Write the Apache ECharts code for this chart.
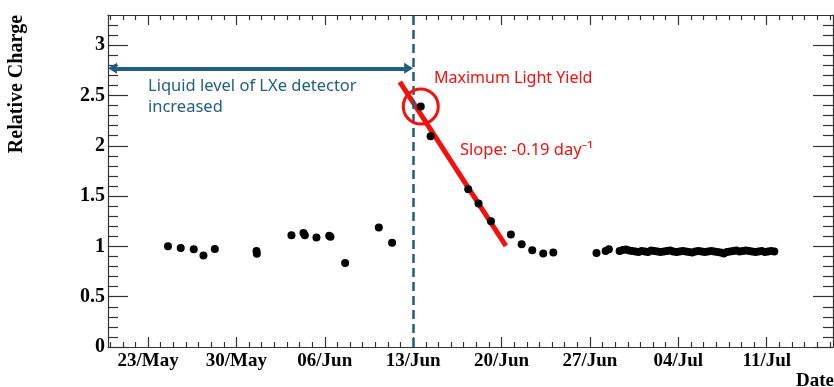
<!DOCTYPE html>
<html>
<head>
<meta charset="utf-8">
<script src="https://cdn.jsdelivr.net/npm/echarts@6/dist/echarts.min.js"></script>
<style>
  html, body { margin: 0; padding: 0; background: #fff; }
  #chart { width: 834px; height: 387px; }
</style>
</head>
<body>
<div id="chart"></div>
<script>
// days counted from 23/May
const xMin = -3.17
const xMax = 54.25
const xTickDays = [0, 7, 14, 21, 28, 35, 42, 49]
const xTickLabels = ['23/May', '30/May', '06/Jun', '13/Jun', '20/Jun', '27/Jun', '04/Jul', '11/Jul']
const xMinorDays = [-3, -2, -1, 1, 2, 3, 4, 5, 6, 8, 9, 10, 11, 12, 13, 15, 16, 17, 18, 19, 20,
  22, 23, 24, 25, 26, 27, 29, 30, 31, 32, 33, 34, 36, 37, 38, 39, 40, 41, 43, 44, 45, 46, 47, 48,
  50, 51, 52, 53, 54]
const yTickValues = [0, 0.5, 1, 1.5, 2, 2.5, 3]
const yMinorValues = [0.1, 0.2, 0.3, 0.4, 0.6, 0.7, 0.8, 0.9, 1.1, 1.2, 1.3, 1.4, 1.6, 1.7, 1.8, 1.9,
  2.1, 2.2, 2.3, 2.4, 2.6, 2.7, 2.8, 2.9, 3.1, 3.2]

// before liquid level change
const beforeDays = [1.58, 2.59, 3.62, 4.39, 5.29, 8.59, 8.62, 11.36, 12.31, 12.42, 13.34, 14.35, 14.45, 15.61, 18.28, 19.33]
const beforeValues = [1.002, 0.985, 0.972, 0.91, 0.975, 0.955, 0.928, 1.111, 1.134, 1.111, 1.088, 1.105, 1.095, 0.836, 1.188, 1.035]
// after 13/Jun
const afterDays = [21.6, 22.38, 25.36, 26.18, 27.16, 28.74, 29.59, 30.43, 31.3, 32.1, 35.52, 36.24, 36.5]
const afterValues = [2.39, 2.095, 1.568, 1.426, 1.25, 1.118, 1.022, 0.962, 0.929, 0.939, 0.935, 0.955, 0.972]
// stable period
const stableDays = [37.35, 37.6, 37.85, 38.1, 38.35, 38.6, 38.85, 39.1, 39.35, 39.6,
  39.85, 40.1, 40.35, 40.6, 40.85, 41.1, 41.35, 41.6, 41.85, 42.1,
  42.35, 42.6, 42.85, 43.1, 43.35, 43.6, 43.85, 44.1, 44.35, 44.6,
  44.85, 45.1, 45.35, 45.6, 45.85, 46.1, 46.35, 46.6, 46.85, 47.1,
  47.35, 47.6, 47.85, 48.1, 48.35, 48.6, 48.85, 49.1, 49.35, 49.6]
const stableValues = [0.955, 0.965, 0.97, 0.96, 0.955, 0.95, 0.945, 0.955, 0.95, 0.945,
  0.96, 0.955, 0.95, 0.945, 0.95, 0.955, 0.96, 0.95, 0.945, 0.95,
  0.955, 0.95, 0.945, 0.94, 0.95, 0.955, 0.95, 0.945, 0.95, 0.955,
  0.95, 0.945, 0.94, 0.93, 0.945, 0.95, 0.955, 0.96, 0.95, 0.955,
  0.96, 0.955, 0.95, 0.945, 0.95, 0.955, 0.945, 0.95, 0.955, 0.95]
// linear fit
const fitDays = [19.94, 28.34]
const fitValues = [2.635, 1.005]

const levelChangeDay = 21
const arrowLevel = 2.77
const arrowEnds = [xMin + 0.36, levelChangeDay - 0.36] // arrow tips sit on the axis / dashed line
const maxPoint = [21.6, 2.39]

const pairs = (xs, ys) => xs.map((x, i) => [x, ys[i]])
const serif = 'Liberation Serif'
const blue = '#1f5e7c'
const red = '#f50f0f'
const axisCol = '#333'

function xAxisOf(pos, ticks, len, main) {
  return {
    type: 'value', position: pos, min: xMin, max: xMax,
    axisLine: { show: main, onZero: false, lineStyle: { color: axisCol, width: 1.2 } },
    axisTick: { show: true, inside: true, length: len, customValues: ticks, lineStyle: { color: axisCol, width: 1.2 } },
    axisLabel: main && pos === 'bottom' ? {
      show: true, customValues: ticks, margin: 5,
      fontFamily: serif, fontWeight: 'bold', fontSize: 19, color: '#000',
      formatter: v => xTickLabels[xTickDays.indexOf(v)]
    } : { show: false },
    splitLine: { show: false }
  }
}
function yAxisOf(pos, ticks, len, main) {
  return {
    type: 'value', position: pos, min: 0, max: 3.3,
    axisLine: { show: main, onZero: false, lineStyle: { color: axisCol, width: 1.2 } },
    axisTick: { show: true, inside: true, length: len, customValues: ticks, lineStyle: { color: axisCol, width: 1.2 } },
    axisLabel: main && pos === 'left' ? {
      show: true, customValues: ticks, margin: 3,
      fontFamily: serif, fontWeight: 'bold', fontSize: 20, color: '#000'
    } : { show: false },
    splitLine: { show: false }
  }
}

const chart = echarts.init(document.getElementById('chart'))
const dot = { color: '#000', opacity: 1 }
chart.setOption({
  animation: false,
  grid: { left: 108, right: 1, top: 15, bottom: 40 },
  xAxis: [
    xAxisOf('bottom', xTickDays, 10, true),
    xAxisOf('bottom', xMinorDays, 5, false),
    xAxisOf('top', xTickDays, 10, true),
    xAxisOf('top', xMinorDays, 5, false)
  ],
  yAxis: [
    yAxisOf('left', yTickValues, 20, true),
    yAxisOf('left', yMinorValues, 10, false),
    yAxisOf('right', yTickValues, 20, true),
    yAxisOf('right', yMinorValues, 10, false)
  ],
  series: [
    {
      type: 'line', data: pairs(fitDays, fitValues), showSymbol: false, z: 2,
      lineStyle: { color: red, width: 5 },
      markLine: {
        silent: true, animation: false,
        label: { show: false },
        data: [
          [{ coord: [arrowEnds[0], arrowLevel], symbol: 'triangle', symbolSize: [11, 9], symbolRotate: 90 },
           { coord: [arrowEnds[1], arrowLevel], symbol: 'triangle', symbolSize: [11, 9], symbolRotate: -90 }]
        ],
        lineStyle: { color: blue, width: 4, type: 'solid' }
      }
    },
    {
      type: 'scatter', data: pairs(beforeDays, beforeValues), symbolSize: 8, itemStyle: dot, z: 3,
      markLine: {
        silent: true, symbol: 'none', animation: false,
        label: { show: false },
        lineStyle: { color: blue, width: 2.5, type: [9, 5] },
        data: [{ xAxis: levelChangeDay }]
      }
    },
    {
      type: 'scatter', data: pairs(afterDays, afterValues), symbolSize: 8, itemStyle: dot, z: 3,
      markPoint: {
        silent: true, animation: false,
        symbol: 'circle', symbolSize: 35,
        label: { show: false },
        itemStyle: { color: 'rgba(0,0,0,0)', borderColor: red, borderWidth: 3 },
        data: [{ coord: maxPoint }]
      }
    },
    { type: 'scatter', data: pairs(stableDays, stableValues), symbolSize: 8, itemStyle: dot, z: 3 }
  ],
  graphic: [
    { type: 'text', x: 17, y: 84, rotation: Math.PI / 2,
      style: { text: 'Relative Charge', font: 'bold 20px "Liberation Serif"', fill: '#000', textAlign: 'center', textVerticalAlign: 'middle' } },
    { type: 'text', x: 834, y: 372,
      style: { text: 'Date', font: 'bold 19px "Liberation Serif"', fill: '#000', textAlign: 'right', textVerticalAlign: 'top' } },
    { type: 'text', x: 148, y: 76,
      style: { text: 'Liquid level of LXe detector\nincreased', font: '16.5px "Noto Sans"', lineHeight: 21, fill: blue, textAlign: 'left', textVerticalAlign: 'top' } },
    { type: 'text', x: 434, y: 78,
      style: { text: 'Maximum Light Yield', font: '16px "Noto Sans"', fill: red, textAlign: 'left', textVerticalAlign: 'middle' } },
    { type: 'text', x: 460, y: 150,
      style: { text: 'Slope: -0.19 day\u207B\u00B9', font: '16.5px "Noto Sans"', fill: red, textAlign: 'left', textVerticalAlign: 'middle' } }
  ]
})
window.onresize = function () { chart.resize() }
</script>
</body>
</html>
